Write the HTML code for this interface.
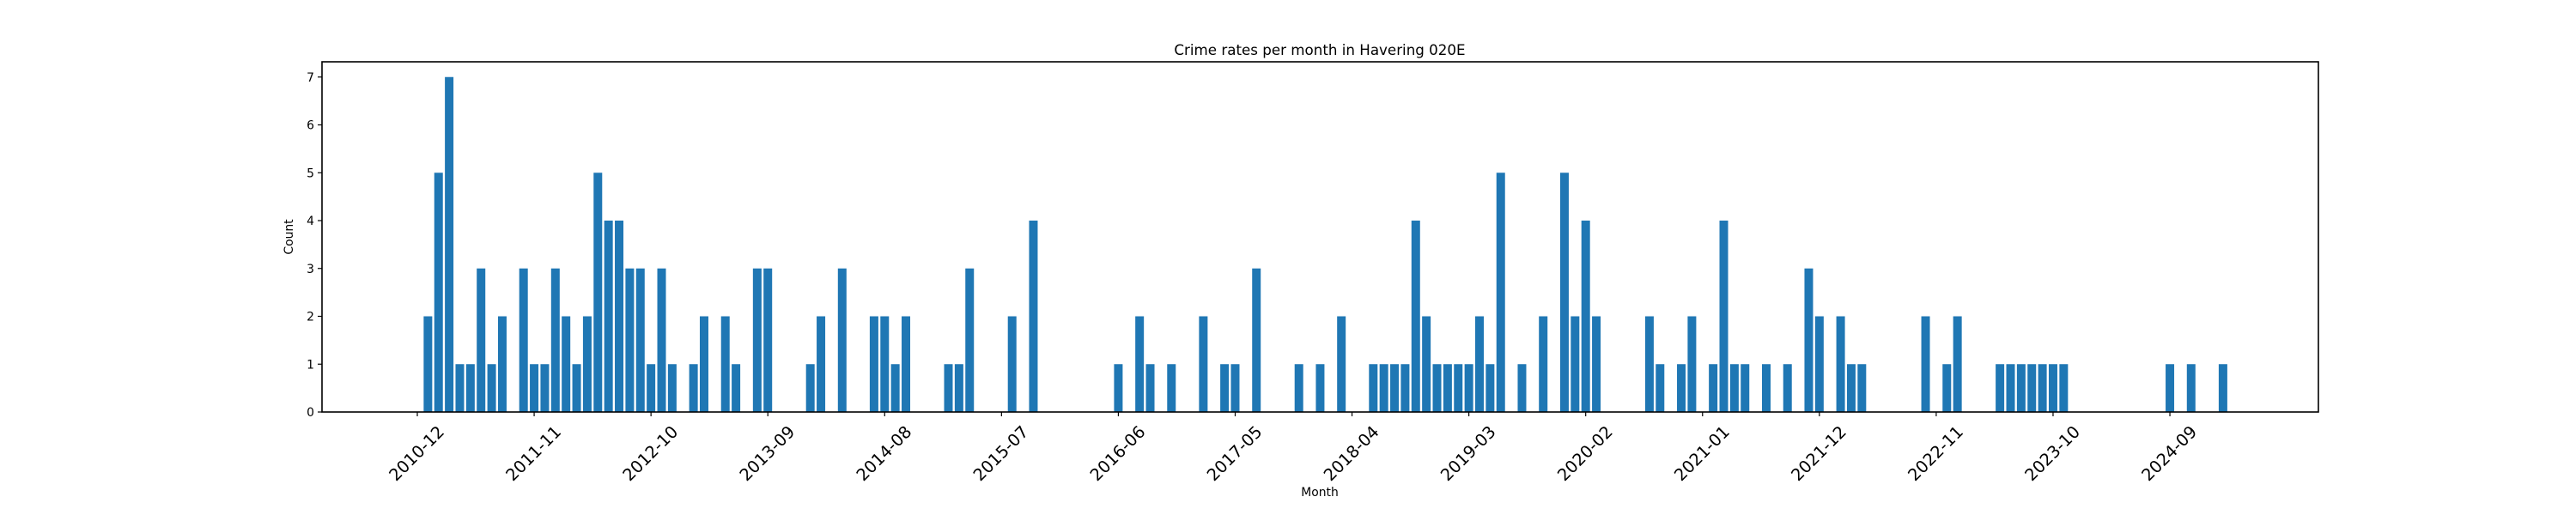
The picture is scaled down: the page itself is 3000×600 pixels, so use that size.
<!DOCTYPE html>
<html><head><meta charset="utf-8"><style>
html,body{margin:0;padding:0;background:#fff;}
svg{display:block;font-family:"DejaVu Sans","Liberation Sans",sans-serif;}
</style></head><body>
<svg id="chart" width="3000" height="600" viewBox="0 0 3000 600">
<rect x="0" y="0" width="3000" height="600" fill="#fff"/>
<text x="1537" y="64" font-size="16.7" text-anchor="middle" fill="#000">Crime rates per month in Havering 020E</text>
<g id="bars"></g>
<g id="yticks"></g>
<g id="xticks"></g>
<rect x="375" y="72" width="2325" height="408" fill="none" stroke="#000" stroke-width="1.6"/>
<text x="0" y="0" transform="translate(341,276) rotate(-90)" font-size="13.9" text-anchor="middle">Count</text>
<text x="1537" y="578" font-size="13.9" text-anchor="middle">Month</text>
</svg>
<script>
// month index counted from 2010-12 (index 0)
const monthIndex = [1,2,3,4,5,6,7,8,10,11,12,13,14,15,16,17,18,19,20,21,22,23,24,26,27,29,30,32,33,
37,38,40,43,44,45,46,50,51,52,56,58,66,68,69,71,74,76,77,79,83,85,87,90,91,92,93,94,95,96,97,98,99,100,101,102,
104,106,108,109,110,111,116,117,119,120,122,123,124,125,127,129,131,132,134,135,136,142,144,145,149,150,151,152,153,154,155,165,167,170];
const counts = [2,5,7,1,1,3,1,2,3,1,1,3,2,1,2,5,4,4,3,3,1,3,1,1,2,2,1,3,3,
1,2,3,2,2,1,2,1,1,3,2,4,1,2,1,1,2,1,1,3,1,1,2,1,1,1,1,4,2,1,1,1,1,2,1,5,
1,2,5,2,4,2,2,1,1,2,1,4,1,1,1,1,3,2,2,1,1,2,1,2,1,1,1,1,1,1,1,1,1,1];
const xTickIndex = [0,11,22,33,44,55,66,77,88,99,110,121,132,143,154,165];
const xTickLabels = ["2010-12","2011-11","2012-10","2013-09","2014-08","2015-07","2016-06","2017-05","2018-04","2019-03","2020-02","2021-01","2021-12","2022-11","2023-10","2024-09"];
const yTicks = [0,1,2,3,4,5,6,7];

const NS = "http://www.w3.org/2000/svg";
const X0 = 486, DX = 12.37, Y0 = 480, DY = 55.75, BW = 10;
function xScale(i){ return X0 + i*DX; }
function yScale(v){ return Y0 - v*DY; }

const gb = document.getElementById('bars');
monthIndex.forEach((m,k)=>{
  const r = document.createElementNS(NS,'rect');
  r.setAttribute('x', xScale(m)-BW/2);
  r.setAttribute('y', yScale(counts[k]));
  r.setAttribute('width', BW);
  r.setAttribute('height', Y0 - yScale(counts[k]));
  r.setAttribute('fill', '#1f77b4');
  
  
  gb.appendChild(r);
});

const gy = document.getElementById('yticks');
yTicks.forEach(v=>{
  const l = document.createElementNS(NS,'line');
  l.setAttribute('x1',370); l.setAttribute('x2',375);
  l.setAttribute('y1',yScale(v)); l.setAttribute('y2',yScale(v));
  l.setAttribute('stroke','#000'); l.setAttribute('stroke-width','1.2');
  
  
  gy.appendChild(l);
  const t = document.createElementNS(NS,'text');
  t.setAttribute('x',366); t.setAttribute('y',yScale(v)+5);
  t.setAttribute('font-size','13.9'); t.setAttribute('text-anchor','end');
  t.textContent = v;
  
  
  gy.appendChild(t);
});

const gx = document.getElementById('xticks');
xTickIndex.forEach((m,k)=>{
  const x = xScale(m);
  const l = document.createElementNS(NS,'line');
  l.setAttribute('x1',x); l.setAttribute('x2',x);
  l.setAttribute('y1',480); l.setAttribute('y2',485);
  l.setAttribute('stroke','#000'); l.setAttribute('stroke-width','1.2');
  
  
  gx.appendChild(l);
  const t = document.createElementNS(NS,'text');
  t.setAttribute('x',0); t.setAttribute('y',0);
  t.setAttribute('transform','translate('+x+',529) rotate(-45)');
  t.setAttribute('font-size','19.4'); t.setAttribute('text-anchor','middle');
  t.setAttribute('dominant-baseline','middle');
  t.textContent = xTickLabels[k];
  
  
  gx.appendChild(t);
});
</script>
</body></html>
